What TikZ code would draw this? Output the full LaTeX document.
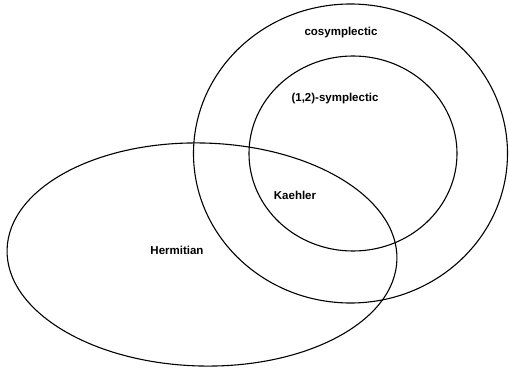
\documentclass[tikz,border=0pt]{standalone}
\usepackage{fontspec}
\setmainfont{Liberation Sans}
\begin{document}
\begin{tikzpicture}[x=1pt,y=-1pt,
  setline/.style={draw=black,line width=1.1pt},
  lbl/.style={font=\fontsize{11.5}{13}\selectfont\bfseries,inner sep=0pt}]
\useasboundingbox (0,0) rectangle (509,372);
\draw[setline] (350.5,153.5) ellipse [x radius=157, y radius=149.5];
\draw[setline] (353,153.5) ellipse [x radius=104, y radius=97.5];
\draw[setline] (202,254.5) ellipse [x radius=195, y radius=111.5, rotate=-1.5];
\node[lbl] (cosym) at (341,33) {cosymplectic};
\node[lbl] (onetwo) at (335,99) {(1,2)-symplectic};
\node[lbl] (kaehler) at (295,195) {Kaehler};
\node[lbl] (herm) at (177,250) {Hermitian};
\end{tikzpicture}
\end{document}
